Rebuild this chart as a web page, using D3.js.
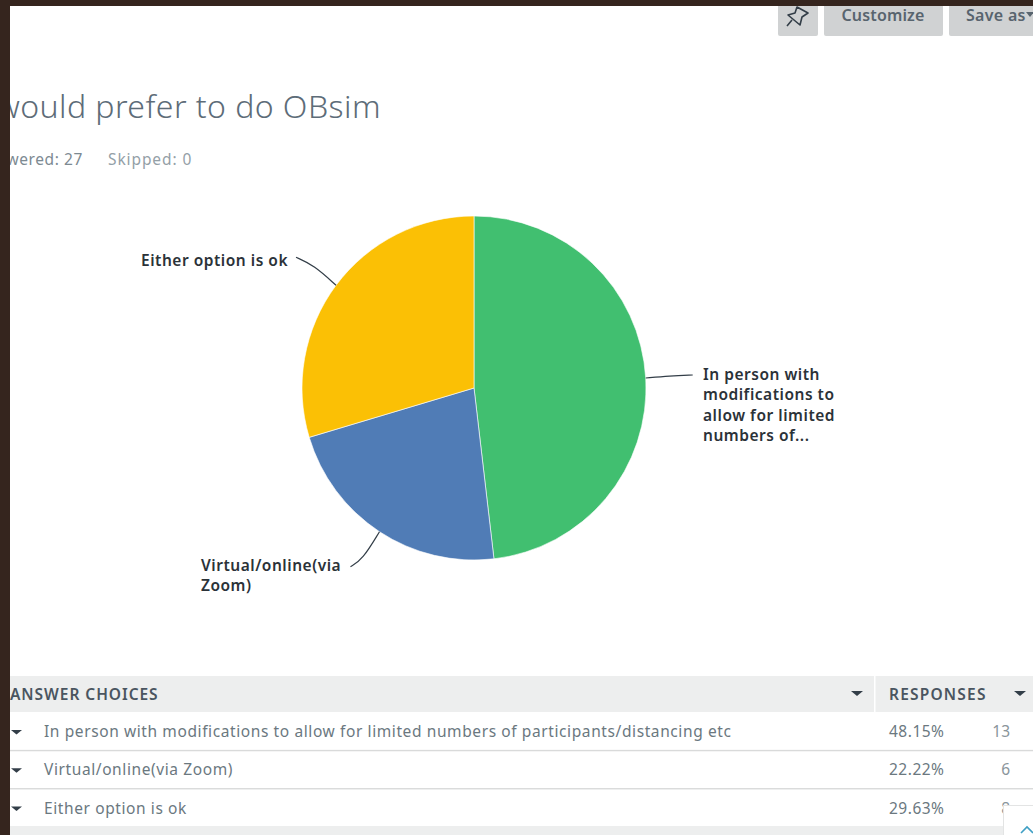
<!DOCTYPE html>
<html>
<head>
<meta charset="utf-8">
<script src="https://cdn.jsdelivr.net/npm/d3@7/dist/d3.min.js"></script>
<style>
  html, body { margin: 0; padding: 0; background: #fff; overflow: hidden; }
  svg { display: block; }
  text { font-family: "Noto Sans", Roboto, sans-serif; }
</style>
</head>
<body>
<svg id="chart" width="1033" height="835"></svg>
<script>
// Survey results
const choices = [
  "In person with modifications to allow for limited numbers of participants/distancing etc",
  "Virtual/online(via Zoom)",
  "Either option is ok"
];
const percents = [48.15, 22.22, 29.63];
const counts = [13, 6, 8];
const sliceLabels = [
  ["In person with", "modifications to", "allow for limited", "numbers of..."],
  ["Virtual/online(via", "Zoom)"],
  ["Either option is ok"]
];
const sliceColors = ["#41bf70", "#507cb6", "#fbc005"];
const titleText = "would prefer to do OBsim";
const answeredText = "Answered: 27";
const skippedText = "Skipped: 0";
const headers = ["ANSWER CHOICES", "RESPONSES"];

const svg = d3.select("#chart");
const ink = "#6b787f";
const dark = "#333e48";

// Toolbar buttons
const toolbar = svg.append("g");
[[778, 40], [824, 119], [949, 100]].forEach(([x, w]) => {
  toolbar.append("rect").attr("x", x).attr("y", -6).attr("width", w).attr("height", 42)
    .attr("rx", 2).attr("fill", "#d0d2d3");
});
toolbar.append("text").attr("x", 883).attr("y", 21).attr("text-anchor", "middle")
  .attr("font-size", 16).attr("font-weight", 600).attr("letter-spacing", 0.15).attr("fill", "#58646e").text("Customize");
toolbar.append("text").attr("x", 966).attr("y", 21)
  .attr("font-size", 16).attr("font-weight", 600).attr("letter-spacing", 0.3).attr("fill", "#58646e").text("Save as");
toolbar.append("path").attr("d", "M1026,12h8l-4,5z").attr("fill", "#58646e");
// Pin icon
toolbar.append("path")
  .attr("d", "M797,7 L808,13 L802,17 L800,25 L788,15 L795,13 Z M792,20 L787,26")
  .attr("fill", "none").attr("stroke", "#333e48").attr("stroke-width", 1.6).attr("stroke-linejoin", "round");

// Heading and response summary
svg.append("text").attr("x", 381).attr("y", 118).attr("text-anchor", "end")
  .attr("font-size", 32).attr("font-weight", 300).attr("letter-spacing", 0.45).attr("fill", "#5d6c78").text(titleText);
svg.append("text").attr("x", 83).attr("y", 165).attr("text-anchor", "end")
  .attr("font-size", 15.5).attr("letter-spacing", 0.6).attr("fill", "#7d8a92").text(answeredText);
svg.append("text").attr("x", 108).attr("y", 165)
  .attr("font-size", 15.5).attr("letter-spacing", 0.9).attr("fill", "#94a0a7").text(skippedText);

// Pie, starting at twelve o'clock and running clockwise
const cx = 474, cy = 388, radius = 172;
const pie = d3.pie().sort(null).value(d => d);
const arc = d3.arc().innerRadius(0).outerRadius(radius);
const slices = pie(percents);
const pieGroup = svg.append("g").attr("transform", `translate(${cx},${cy})`);
pieGroup.selectAll("path.slice").data(slices).join("path")
  .attr("class", "slice")
  .attr("d", arc)
  .attr("fill", (d, i) => sliceColors[i])
  .attr("stroke", "#fff").attr("stroke-width", 0.6);

// Leader lines run from each slice's rim toward its label
const leaderBends = [
  [[24, -2], [47, -3]],
  [[-17, 28], [-29, 35]],
  [[-22, -20], [-40, -28]]
];
const leaderLine = d3.line().curve(d3.curveBasis);
slices.forEach((d, i) => {
  const mid = (d.startAngle + d.endAngle) / 2;
  const x0 = Math.sin(mid) * radius, y0 = -Math.cos(mid) * radius;
  const b = leaderBends[i];
  const pts = [[x0, y0], [x0, y0], [x0 + b[0][0], y0 + b[0][1]], [x0 + b[1][0], y0 + b[1][1]], [x0 + b[1][0], y0 + b[1][1]]];
  pieGroup.append("path").attr("d", leaderLine(pts))
    .attr("fill", "none").attr("stroke", "#333e48").attr("stroke-width", 1.2);
});

// Slice labels
const labelAnchors = [[703, 380], [201, 571], [141, 266]];
const labelStep = 20.4;
sliceLabels.forEach((lines, i) => {
  const t = svg.append("text").attr("font-size", 15.5).attr("font-weight", 600)
    .attr("letter-spacing", 0.52).attr("fill", "#2b3238");
  lines.forEach((line, j) => {
    t.append("tspan").attr("x", labelAnchors[i][0]).attr("y", labelAnchors[i][1] + j * labelStep).text(line);
  });
});

// Results table
const rowY = d3.scaleBand().domain(d3.range(choices.length)).range([712, 826.5]);
svg.append("rect").attr("x", 0).attr("y", 676).attr("width", 1033).attr("height", 36).attr("fill", "#edeeee");
svg.append("rect").attr("x", 874).attr("y", 676).attr("width", 1.5).attr("height", 36).attr("fill", "#fff");
svg.append("text").attr("x", 10).attr("y", 700).attr("font-size", 15.5).attr("font-weight", 600)
  .attr("letter-spacing", 0.95).attr("fill", "#4a5560").text(headers[0]);
svg.append("text").attr("x", 889).attr("y", 700).attr("font-size", 15.5).attr("font-weight", 600)
  .attr("letter-spacing", 1.2).attr("fill", "#4a5560").text(headers[1]);
[857, 1020].forEach(x => {
  svg.append("path").attr("d", `M${x - 6},691h12l-6,5z`).attr("fill", dark);
});
svg.append("rect").attr("x", 0).attr("y", 826).attr("width", 1033).attr("height", 9).attr("fill", "#edeeee");

const rows = svg.selectAll("g.row").data(choices).join("g").attr("class", "row")
  .attr("transform", (d, i) => `translate(0,${rowY(i)})`);
const bh = rowY.bandwidth();
rows.filter((d, i) => i < choices.length - 1).append("rect")
  .attr("x", 0).attr("y", bh - 0.3).attr("width", 1033).attr("height", 1.4).attr("fill", "#d9dada");
rows.append("path").attr("d", `M11,${bh / 2 - 1}h11l-5.5,4.5z`).attr("fill", dark);
rows.append("text").attr("x", 44).attr("y", bh / 2 + 6.2)
  .attr("font-size", 15.5).attr("letter-spacing", 0.6).attr("fill", ink).text(d => d);
rows.append("text").attr("x", 889).attr("y", bh / 2 + 6.2)
  .attr("font-size", 15.5).attr("letter-spacing", 0.5).attr("fill", ink).text((d, i) => d3.format(".2f")(percents[i]) + "%");
rows.append("text").attr("x", 1010).attr("y", bh / 2 + 6.2).attr("text-anchor", "end")
  .attr("font-size", 15.5).attr("fill", "#8a959b").text((d, i) => counts[i]);

// Back-to-top tab in the corner
svg.append("rect").attr("x", 1003.5).attr("y", 805.5).attr("width", 40).attr("height", 40)
  .attr("fill", "#fff").attr("stroke", "#e3e4e4");
svg.append("path").attr("d", "M1021,833l6,-6l6,6").attr("fill", "none").attr("stroke", "#3f9fc4").attr("stroke-width", 1.6);

// Window frame edges
svg.append("rect").attr("x", 0).attr("y", 0).attr("width", 10).attr("height", 835).attr("fill", "#35251e");
svg.append("rect").attr("x", 0).attr("y", 0).attr("width", 1033).attr("height", 6).attr("fill", "#35251e");
</script>
</body>
</html>
